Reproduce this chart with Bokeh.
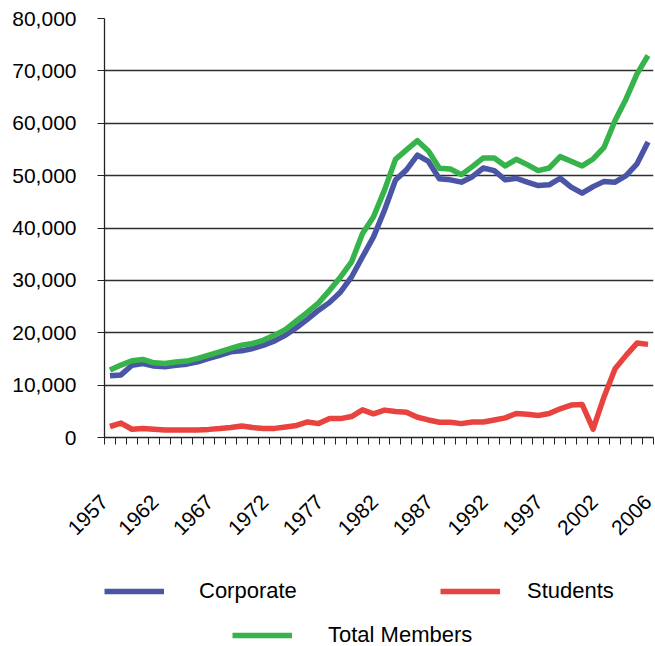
import math
from bokeh.plotting import figure
from bokeh.layouts import column
from bokeh.models import (Range1d, FixedTicker, NumeralTickFormatter, Legend, LegendItem)
from bokeh.embed import file_html
from bokeh.resources import INLINE

years = [1957, 1958, 1959, 1960, 1961, 1962, 1963, 1964, 1965, 1966,
         1967, 1968, 1969, 1970, 1971, 1972, 1973, 1974, 1975, 1976,
         1977, 1978, 1979, 1980, 1981, 1982, 1983, 1984, 1985, 1986,
         1987, 1988, 1989, 1990, 1991, 1992, 1993, 1994, 1995, 1996,
         1997, 1998, 1999, 2000, 2001, 2002, 2003, 2004, 2005, 2006]

corporate = [11800, 11950, 13800, 14100, 13650, 13500, 13800, 14000, 14450, 15100,
             15700, 16350, 16550, 17000, 17650, 18450, 19550, 21000, 22600, 24300,
             25800, 27800, 30650, 34500, 38300, 43400, 49150, 51100, 53900, 52700,
             49400, 49200, 48750, 49800, 51450, 50950, 49200, 49500, 48750, 48100,
             48250, 49500, 47800, 46650, 47900, 48900, 48750, 50000, 52250, 56400]

students = [2100, 2750, 1580, 1730, 1580, 1450, 1450, 1450, 1450, 1550,
            1700, 1900, 2200, 1900, 1740, 1740, 2000, 2300, 2970, 2650,
            3610, 3610, 4000, 5290, 4520, 5230, 4970, 4840, 3870, 3350,
            2900, 2900, 2650, 2970, 2970, 3350, 3740, 4580, 4450, 4190,
            4580, 5480, 6190, 6320, 1600, 7800, 13130, 15680, 18030, 17780]

total = [12870, 13820, 14650, 14900, 14270, 14140, 14400, 14590, 15100, 15730,
         16370, 17010, 17640, 17960, 18600, 19550, 20640, 22290, 23950, 25700,
         28100, 30650, 33520, 38950, 42140, 47240, 53110, 54900, 56680, 54700,
         51400, 51270, 50190, 51720, 53380, 53380, 51850, 53120, 52100, 50960,
         51460, 53630, 52740, 51850, 53180, 55410, 60510, 64650, 69430, 72930]

year_labels = ["1957", "1962", "1967", "1972", "1977", "1982", "1987", "1992",
               "1997", "2002", "2006"]
y_ticks = [0, 10000, 20000, 30000, 40000, 50000, 60000, 70000, 80000]

FONT = "Liberation Sans"
FS = "21px"
LFS = "22px"
BLUE = "#4a55a6"
RED = "#e8433f"
GREEN = "#36b34a"

x_start = years[0] - 0.5
x_end = years[-1] + 0.5

p = figure(width=655, height=550, output_backend="svg", toolbar_location=None,
           x_range=Range1d(x_start, x_end),
           y_range=Range1d(y_ticks[0], y_ticks[-1]),
           min_border_left=104, min_border_right=2, min_border_top=18,
           min_border_bottom=113)
p.outline_line_color = None
p.xgrid.grid_line_color = None
p.ygrid.grid_line_color = "#2e2e2e"
p.ygrid.grid_line_width = 1.3

# anchor positions of the rotated year labels (they end near the category edges)
label_pos = [round(int(t) - 0.9, 1) for t in year_labels[:-1]] + \
            [float(int(year_labels[-1]))]
label_pos[0] = x_start
minor = [y - 0.5 for y in years] + [x_end]
p.xaxis.ticker = FixedTicker(ticks=label_pos, minor_ticks=minor)
p.xaxis.major_label_overrides = {pos: lab for pos, lab in zip(label_pos, year_labels)}
p.xaxis.major_tick_out = 0
p.xaxis.major_tick_in = 0
p.xaxis.minor_tick_out = 7
p.xaxis.minor_tick_in = 0
p.xaxis.minor_tick_line_color = "#222222"
p.xaxis.axis_line_color = "#222222"
p.xaxis.axis_line_width = 1.3
p.xaxis.major_label_orientation = math.pi / 4
p.xaxis.major_label_standoff = 54
p.xaxis.major_label_text_font = FONT
p.xaxis.major_label_text_font_size = FS
p.xaxis.major_label_text_color = "black"

p.yaxis.ticker = FixedTicker(ticks=y_ticks, minor_ticks=[])
p.yaxis.formatter = NumeralTickFormatter(format="0,0")
p.yaxis.major_tick_out = 7
p.yaxis.major_tick_in = 0
p.yaxis.major_tick_line_color = "#222222"
p.yaxis.axis_line_color = "#222222"
p.yaxis.axis_line_width = 1.3
p.yaxis.major_label_standoff = 21
p.yaxis.major_label_text_font = FONT
p.yaxis.major_label_text_font_size = FS
p.yaxis.major_label_text_color = "black"

LW = 5.5
p.line(years, corporate, line_color=BLUE, line_width=LW, line_join="round")
p.line(years, students, line_color=RED, line_width=LW, line_join="round")
p.line(years, total, line_color=GREEN, line_width=LW, line_join="round")

# legend area below the chart (its frame lines up with the chart's frame)
q = figure(width=655, height=96, output_backend="svg", toolbar_location=None,
           x_range=Range1d(0, 1), y_range=Range1d(0, 1),
           x_axis_location=None, y_axis_location=None,
           min_border_left=0, min_border_right=0, min_border_top=0,
           min_border_bottom=0)
q.outline_line_color = None
q.xgrid.grid_line_color = None
q.ygrid.grid_line_color = None
nan = float("nan")
s_corp = q.line(x=[nan], y=[nan], line_color=BLUE, line_width=LW)
s_stud = q.line(x=[nan], y=[nan], line_color=RED, line_width=LW)
s_tot = q.line(x=[nan], y=[nan], line_color=GREEN, line_width=LW)


def make_legend(label, r, loc, standoff):
    lg = Legend(items=[LegendItem(label=label, renderers=[r])], location=loc,
                orientation="horizontal", padding=0, margin=0, spacing=0,
                border_line_color=None, background_fill_alpha=0,
                glyph_width=60, glyph_height=20, label_height=20,
                label_standoff=standoff, label_text_font=FONT,
                label_text_font_size=LFS, label_text_color="black")
    q.add_layout(lg)


make_legend("Corporate", s_corp, (0, 42), 35)
make_legend("Students", s_stud, (336, 42), 27)
make_legend("Total Members", s_tot, (128, -2), 36)

layout = column(p, q, spacing=0)
open("out.html", "w").write(file_html(layout, INLINE))
